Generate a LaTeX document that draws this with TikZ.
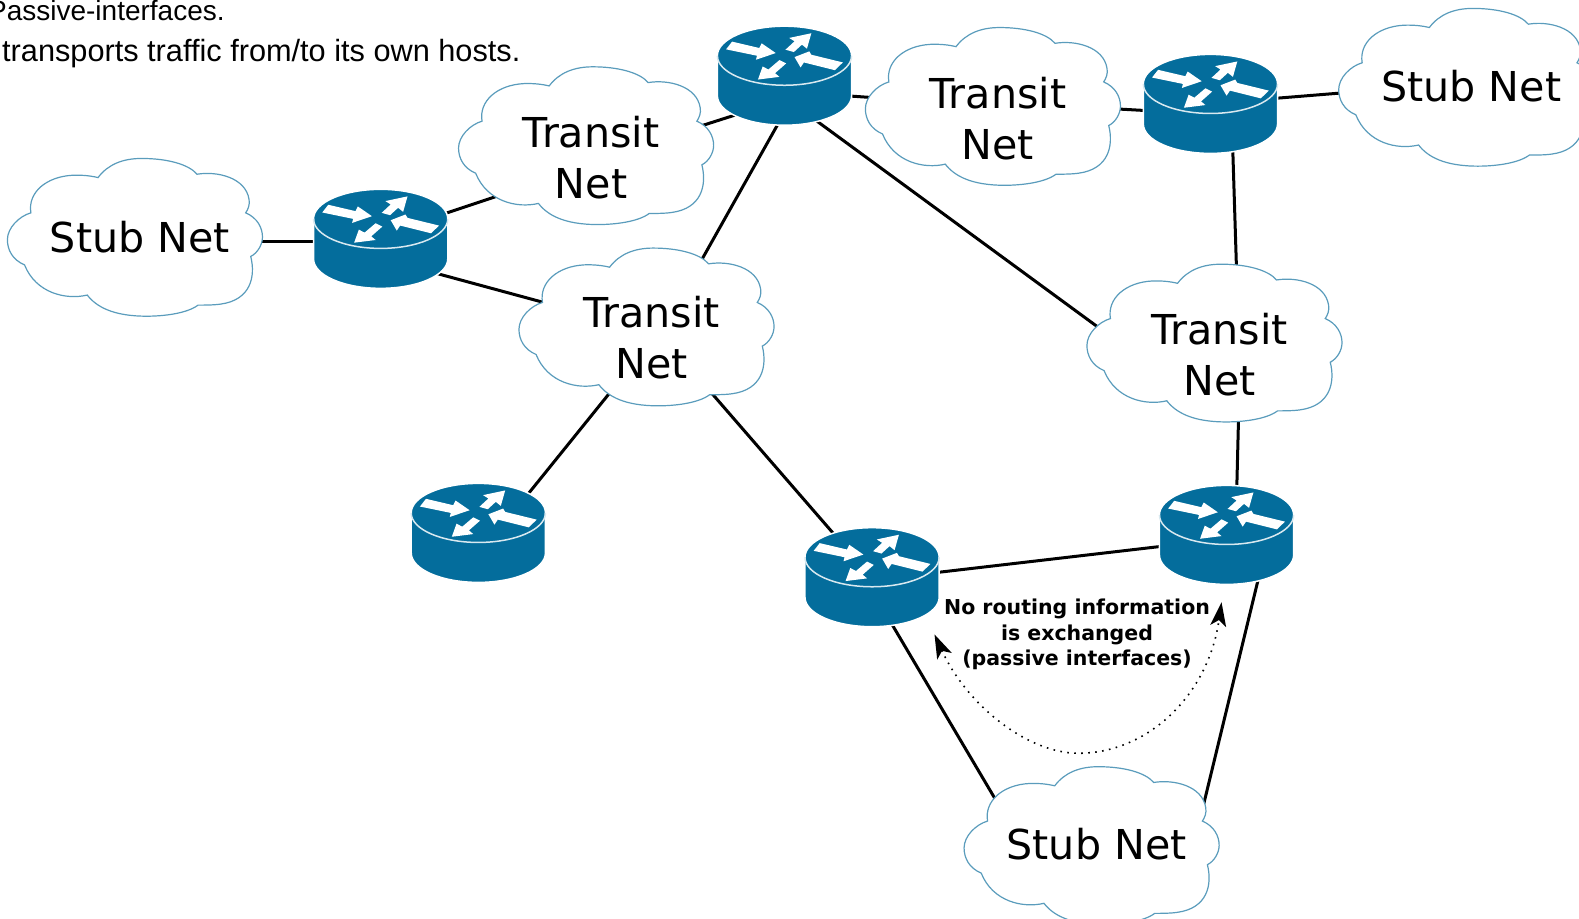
\documentclass[tikz,border=0pt]{standalone}
\usepackage{fontspec}
\setmainfont{DejaVu Sans}
\newfontfamily\headfont{Liberation Sans}
\usetikzlibrary{calc,arrows.meta}
\definecolor{routerblue}{HTML}{046D9C}
\definecolor{cloudline}{HTML}{5A9CBC}
\pgfdeclarelayer{links}
\pgfdeclarelayer{shapes}
\pgfsetlayers{links,shapes,main}
\tikzset{
  routerbox/.style={minimum width=132pt,minimum height=98pt,inner sep=0pt},
  cloudbox/.style={minimum width=252pt,minimum height=156pt,inner sep=0pt},
  nettext/.style={align=center,inner sep=0pt,font=\fontsize{41.2}{51}\selectfont},
  headtext/.style={anchor=base west,inner sep=0pt,font=\headfont\fontsize{30.7}{36}\selectfont},
  headtextb/.style={anchor=base west,inner sep=0pt,font=\headfont\fontsize{28}{36}\selectfont},
  passivetext/.style={align=center,inner sep=0pt,font=\bfseries\fontsize{20.5}{25.5}\selectfont},
  link/.style={draw=black,line width=3pt},
  hint/.style={draw=black,line width=1.6pt,dash pattern=on 1.6pt off 5.4pt,{Stealth[length=24pt,width=16pt,inset=6pt]}-{Stealth[length=24pt,width=16pt,inset=6pt]}},
  cloud/.pic={
    \begin{scope}[scale=0.3333,shift={(-405,-264)}]
      \draw[cloudline,fill=white,line width=1.2pt]
        (295,85) .. controls (325,45) and (370,28) .. (425,28)
        .. controls (500,28) and (565,45) .. (590,75)
        .. controls (650,65) and (735,85) .. (745,150)
        .. controls (748,165) and (742,180) .. (735,190)
        .. controls (770,205) and (785,235) .. (785,262)
        .. controls (785,285) and (770,310) .. (750,320)
        .. controls (765,380) and (750,450) .. (660,462)
        .. controls (640,465) and (610,465) .. (593,465)
        .. controls (560,490) and (490,498) .. (440,498)
        .. controls (340,498) and (290,470) .. (263,435)
        .. controls (200,450) and (110,430) .. (76,345)
        .. controls (40,330) and (25,300) .. (25,270)
        .. controls (25,235) and (60,200) .. (95,190)
        .. controls (85,130) and (140,82) .. (220,78)
        .. controls (250,77) and (275,80) .. (295,85) -- cycle;
    \end{scope}
  },
  router/.pic={
    \begin{scope}[scale=0.3333,shift={(-240,-202)}]
      \draw[white,fill=routerblue,line width=1.5pt]
        (40,143) -- (40,262) .. controls (40,311) and (130,350) .. (240,350)
        .. controls (350,350) and (440,311) .. (440,262) -- (440,143)
        .. controls (440,94) and (350,55) .. (240,55)
        .. controls (130,55) and (40,94) .. (40,143) -- cycle;
      \draw[white!85!routerblue,line width=1.5pt]
        (40,143) .. controls (40,192) and (130,231) .. (240,231)
        .. controls (350,231) and (440,192) .. (440,143);
      \fill[white] (84,101) -- (165,120) -- (172,106) -- (214,135) -- (155,155) -- (158,143) -- (66,124) -- cycle;
      \fill[white] (243,125) -- (270,100) -- (254,90) -- (320,76) -- (307,122) -- (292,110) -- (268,132) -- cycle;
      \fill[white] (414,163) -- (320,140) -- (314,130) -- (270,147) -- (288,178) -- (298,163) -- (390,186) -- cycle;
      \fill[white] (225,156) -- (192,184) -- (175,175) -- (161,214) -- (225,206) -- (212,195) -- (245,166) -- cycle;
    \end{scope}
  }
}
\begin{document}
\begin{tikzpicture}[x=1.007pt,y=-1.007pt]
  \useasboundingbox (0,0) rectangle (1568,911.6);
  \clip (0,0) rectangle (1568,911.6);
  % clouds
  \node[cloudbox] (s1) at (134,236) {};
  \node[cloudbox] (t1) at (582,145) {};
  \node[cloudbox] (t2) at (642,325) {};
  \node[cloudbox] (t3) at (986,106) {};
  \node[cloudbox] (s2) at (1456,87) {};
  \node[cloudbox] (t4) at (1206,341) {};
  \node[cloudbox] (s3) at (1084,840) {};
  % routers
  \node[routerbox] (r1) at (378,237) {};
  \node[routerbox] (r2) at (779,75) {};
  \node[routerbox] (r3) at (1202,103) {};
  \node[routerbox] (r4) at (475,529) {};
  \node[routerbox] (r5) at (866,573) {};
  \node[routerbox] (r6) at (1218,531) {};
  \begin{pgfonlayer}{shapes}
    \foreach \n in {s1,t1,t2,t3,s2,t4,s3} \pic at (\n) {cloud};
    \foreach \n in {r1,r2,r3,r4,r5,r6} \pic at (\n) {router};
  \end{pgfonlayer}
  % labels
  \node[nettext] (s1l) at ($(s1)+(5,-1)$) {Stub Net};
  \node[nettext] (s2l) at ($(s2)+(5,-1)$) {Stub Net};
  \node[nettext] (s3l) at ($(s3)+(5,-2)$) {Stub Net};
  \node[nettext] (t1l) at ($(t1)+(5,11.5)$) {Transit\\Net};
  \node[nettext] (t2l) at ($(t2)+(5,10.5)$) {Transit\\Net};
  \node[nettext] (t3l) at ($(t3)+(5,12)$) {Transit\\Net};
  \node[nettext] (t4l) at ($(t4)+(5,11)$) {Transit\\Net};
  \node[headtextb] (h1) at (-12,20) {Passive-interfaces.};
  \node[headtext] (h2) at (2,61.5) {transports traffic from/to its own hosts.};
  \node[passivetext] (info) at (1069.5,630) {No routing information\\is exchanged\\(passive interfaces)};
  % connectors
  \begin{pgfonlayer}{links}
    \draw[link] ($(s1)+(120,4)$) -- ($(r1)+(-60,3)$);
    \draw[link] ($(r1)+(55,-22)$) -- ($(t1)+(-86,49)$);
    \draw[link] ($(r1)+(50,33)$) -- ($(t2)+(-96,-23)$);
    \draw[link] ($(t1)+(108,-18)$) -- ($(r2)+(-42,37)$);
    \draw[link] ($(r2)+(-3,42)$) -- ($(t2)+(52,-62)$);
    \draw[link] ($(r2)+(60,20)$) -- ($(t3)+(-118,-9)$);
    \draw[link] ($(t3)+(120,2)$) -- ($(r3)+(-60,7)$);
    \draw[link] ($(r3)+(60,-5)$) -- ($(s2)+(-120,5)$);
    \draw[link] ($(r3)+(22,40)$) -- ($(t4)+(22,-70)$);
    \draw[link] ($(r2)+(25,40)$) -- ($(t4)+(-110,-12)$);
    \draw[link] ($(t4)+(24,70)$) -- ($(r6)+(10,-40)$);
    \draw[link] ($(r6)+(-60,11)$) -- ($(r5)+(60,-4)$);
    \draw[link] ($(t2)+(-34,62)$) -- ($(r4)+(45,-33)$);
    \draw[link] ($(t2)+(60,60)$) -- ($(r5)+(-33,-37)$);
    \draw[link] ($(r5)+(18,44)$) -- ($(s3)+(-96,-47)$);
    \draw[link] ($(r6)+(32,42)$) -- ($(s3)+(109,-32)$);
  \end{pgfonlayer}
  \coordinate (a1) at (928,630);
  \coordinate (a2) at (1213,598);
  \draw[hint] (a1) .. controls (960,700) and (1020,748) .. (1071,748)
    .. controls (1140,748) and (1200,690) .. (a2);
\end{tikzpicture}
\end{document}
